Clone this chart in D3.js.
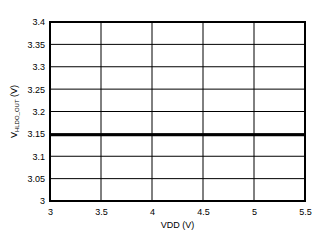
<!DOCTYPE html>
<html><head><meta charset="utf-8">
<script src="https://cdn.jsdelivr.net/npm/d3@7"></script>
<style>body{margin:0;background:#fff}svg{display:block}text{font-family:"Liberation Sans",Arial,sans-serif;font-size:9px;fill:#000}</style>
</head><body><svg id="c" width="326" height="243"></svg>
<script>
const xTicks = [3, 3.5, 4, 4.5, 5, 5.5];
const yTicks = [3, 3.05, 3.1, 3.15, 3.2, 3.25, 3.3, 3.35, 3.4];
const vdd = [3, 3.5, 4, 4.5, 5, 5.5];
const vout = [3.148, 3.148, 3.148, 3.148, 3.148, 3.148];

const svg = d3.select("#c");
const m = {l: 50, r: 305, t: 22, b: 201};
const x = d3.scaleLinear().domain([3, 5.5]).range([m.l, m.r]);
const y = d3.scaleLinear().domain([3, 3.4]).range([m.b, m.t]);

const g = svg.append("g");
g.selectAll(".vx").data(xTicks).enter().append("line")
  .attr("x1", d => x(d)).attr("x2", d => x(d)).attr("y1", m.t).attr("y2", m.b)
  .attr("stroke", "#000").attr("stroke-width", 1);
g.selectAll(".hy").data(yTicks).enter().append("line")
  .attr("y1", d => y(d)).attr("y2", d => y(d)).attr("x1", m.l).attr("x2", m.r)
  .attr("stroke", "#000").attr("stroke-width", 1);

svg.append("path").datum(d3.zip(vdd, vout))
  .attr("d", d3.line().x(d => x(d[0])).y(d => y(d[1])))
  .attr("fill", "none").attr("stroke", "#000").attr("stroke-width", 3);

svg.append("rect").attr("x", m.l).attr("y", m.t).attr("width", m.r - m.l).attr("height", m.b - m.t)
  .attr("fill", "none").attr("stroke", "#000").attr("stroke-width", 2);

const xa = svg.append("g").attr("transform", `translate(0,${m.b})`)
  .call(d3.axisBottom(x).tickValues(xTicks).tickSize(0).tickPadding(8).tickFormat(d3.format("")));
xa.select(".domain").remove();
const ya = svg.append("g").attr("transform", `translate(${m.l},0)`)
  .call(d3.axisLeft(y).tickValues(yTicks).tickSize(0).tickPadding(5).tickFormat(d3.format("")));
ya.select(".domain").remove();
svg.selectAll(".tick text").style("font-family", '"Liberation Sans",Arial,sans-serif').style("font-size", "9px").attr("fill", "#000");

svg.append("text").attr("x", (m.l + m.r) / 2).attr("y", 228).attr("text-anchor", "middle").text("VDD (V)");
const yl = svg.append("text").attr("transform", `translate(17,${(m.t + m.b) / 2}) rotate(-90)`).attr("text-anchor", "middle");
yl.append("tspan").text("V");
yl.append("tspan").attr("dy", 2).style("font-size", "6px").text("HLDO_OUT");
yl.append("tspan").attr("dy", -2).text(" (V)");
</script></body></html>
